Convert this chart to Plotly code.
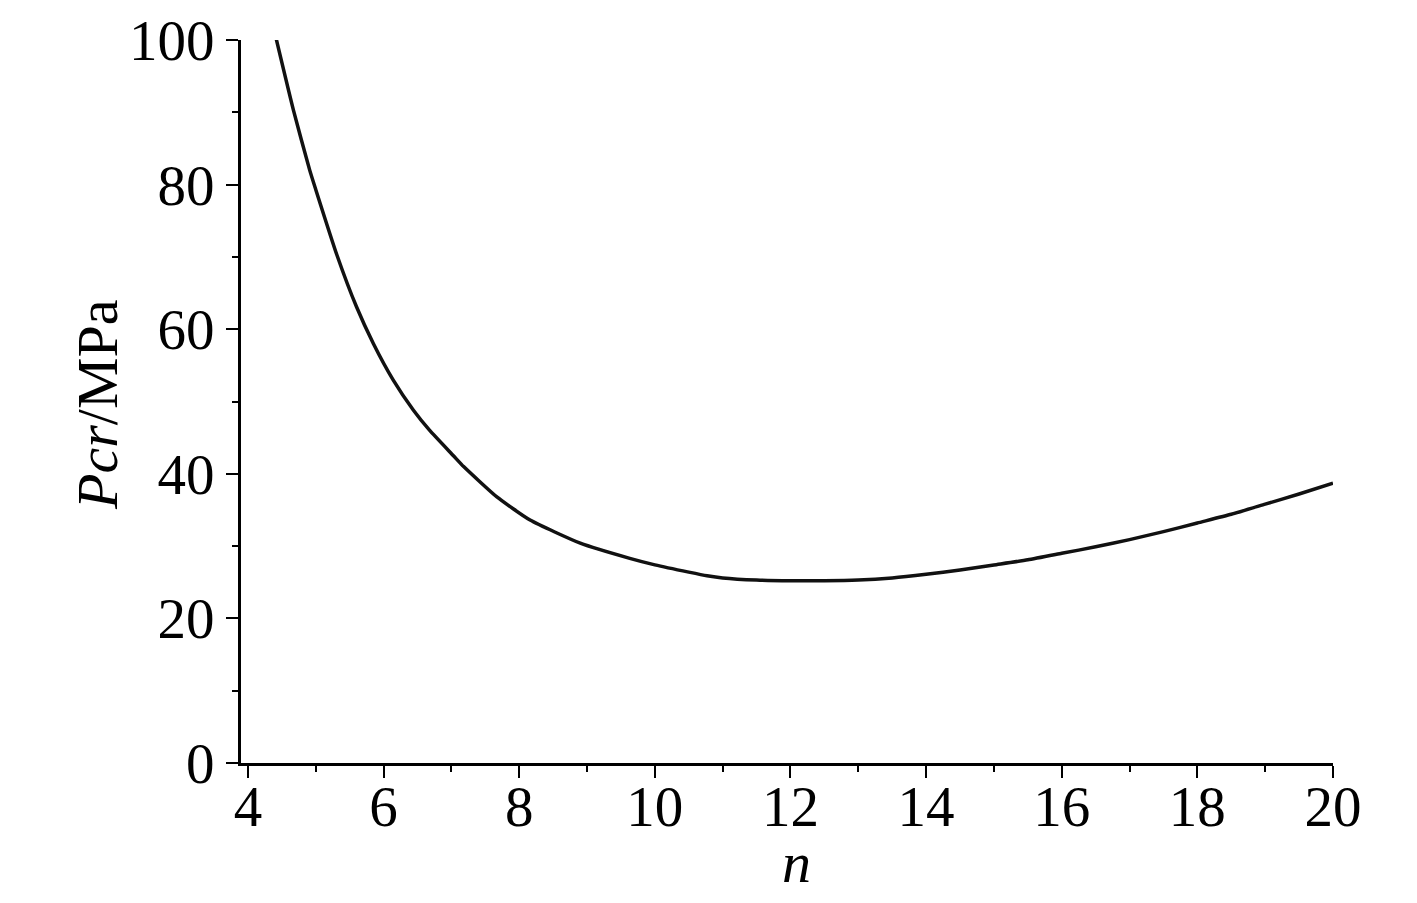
import plotly.graph_objects as go

# 曲线数据
n_values = [4.4, 4.67, 4.91, 5.0, 5.31, 5.6, 5.85, 6.14, 6.44, 6.68, 7.03, 7.18,
            7.67, 8.16, 8.9, 9.63, 10.0, 10.5, 10.77, 11.0, 11.5, 12.0, 12.5,
            13.0, 13.5, 14.0, 14.5, 15.0, 15.5, 16.0, 16.5, 17.0, 17.5, 18.0,
            18.5, 19.0, 19.5, 20.0]
pcr_values = [100.8, 90.3, 82.0, 79.3, 70.3, 63.1, 58.0, 53.0, 48.8, 46.0, 42.5,
              41.0, 36.8, 33.6, 30.4, 28.3, 27.4, 26.4, 25.9, 25.6, 25.3, 25.2,
              25.2, 25.3, 25.6, 26.1, 26.7, 27.4, 28.1, 29.0, 29.9, 30.9, 32.0,
              33.2, 34.4, 35.8, 37.2, 38.7]

x_ticks = [4, 6, 8, 10, 12, 14, 16, 18, 20]
y_ticks = [0, 20, 40, 60, 80, 100]

FONT = "Liberation Serif, Times New Roman, serif"

fig = go.Figure()
fig.add_trace(go.Scatter(
    x=n_values, y=pcr_values, mode="lines",
    line=dict(color="#111111", width=3.5, shape="spline", smoothing=0.5),
    showlegend=False, hoverinfo="skip"
))

axis_common = dict(
    showline=True, linecolor="black", linewidth=3,
    showgrid=False, zeroline=False, automargin=False,
    ticks="outside", ticklen=12, tickwidth=2, tickcolor="black",
    tickfont=dict(family=FONT, size=57, color="black"),
    mirror=False,
)

fig.update_xaxes(
    range=[3.897, 20], tickvals=x_ticks, ticklabelstandoff=-20,
    minor=dict(tickvals=[5, 7, 9, 11, 13, 15, 17, 19], ticks="outside",
               ticklen=6, tickwidth=2, tickcolor="black"),
    **axis_common
)
fig.update_yaxes(
    range=[0, 100], tickvals=y_ticks,
    minor=dict(tickvals=[10, 30, 50, 70, 90], ticks="outside",
               ticklen=6, tickwidth=2, tickcolor="black"),
    **axis_common
)

# 坐标轴标题
fig.add_annotation(text="<i>n</i>", xref="paper", yref="paper",
                   x=0.509, y=-0.138, xanchor="center", yanchor="middle",
                   showarrow=False, font=dict(family=FONT, size=58, color="black"))
fig.add_annotation(text="<i>Pcr</i>/MPa", xref="paper", yref="paper",
                   x=-0.132, y=0.495, xanchor="center", yanchor="middle",
                   textangle=-90, showarrow=False,
                   font=dict(family=FONT, size=58, color="black"))

# 页面 body 默认有 8px 边距，这里相应缩小画布
fig.update_layout(
    width=1409, height=895,
    template="plotly_white",
    paper_bgcolor="white", plot_bgcolor="white",
    margin=dict(l=233, r=84, t=32, b=140),
)

fig.write_html("out.html")
